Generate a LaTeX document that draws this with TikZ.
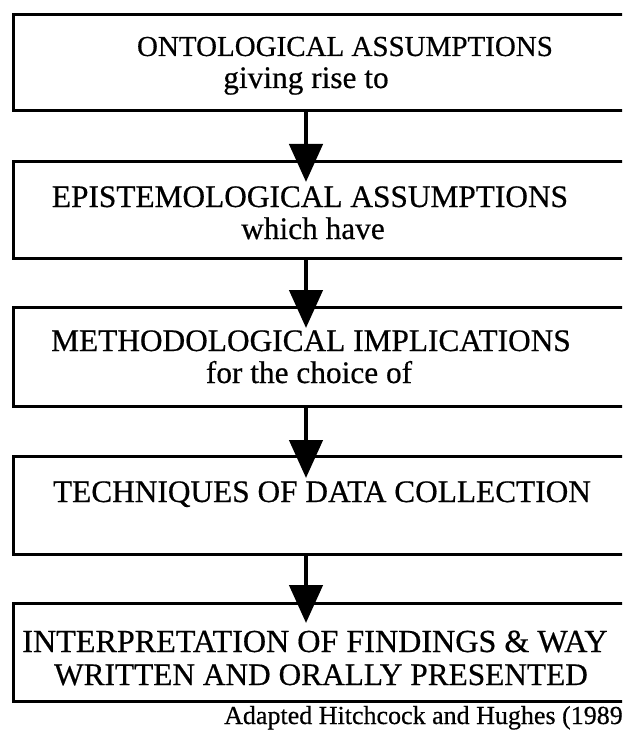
\documentclass[tikz,border=0pt]{standalone}
\usepackage{fontspec}
\setmainfont{Liberation Serif}[FakeBold=0.5]
\usetikzlibrary{arrows.meta}
\begin{document}
\begin{tikzpicture}[x=0.75pt,y=-0.75pt,
  box/.style={draw, line width=2pt, anchor=north west, inner sep=0pt, minimum width=480pt},
  title/.style={anchor=base, inner sep=0pt, font=\fontsize{23.5}{26}\selectfont},
  small/.style={anchor=base, inner sep=0pt, font=\fontsize{23.5}{26}\selectfont},
  flow/.style={line width=3.5pt, -{Triangle[width=24.75pt,length=28.5pt]}}]
\useasboundingbox (0,0) rectangle (622,731);
\fill[white] (0,0) rectangle (622,731);
\clip (0,0) rectangle (622,731);

% stacked boxes (they run past the right margin)
\node[box, minimum height=72pt]    (b1) at (12,13)  {};
\node[box, minimum height=72.75pt] (b2) at (12,160) {};
\node[box, minimum height=74.25pt] (b3) at (12,306) {};
\node[box, minimum height=73.5pt]  (b4) at (12,455) {};
\node[box, minimum height=73.5pt]  (b5) at (12,602) {};

% box texts
\node[title, font=\fontsize{21.75}{24}\selectfont] (l1a) at (345,56) {ONTOLOGICAL ASSUMPTIONS};
\node[small] (l1b) at (306,88) {giving rise to};
\node[title] (l2a) at (310,207) {EPISTEMOLOGICAL ASSUMPTIONS};
\node[small] (l2b) at (313,239) {which have};
\node[title] (l3a) at (311,351) {METHODOLOGICAL IMPLICATIONS};
\node[small] (l3b) at (309,383) {for the choice of};
\node[title] (l4a) at (322,502) {TECHNIQUES OF DATA COLLECTION};
\node[title, font=\fontsize{24.1}{26}\selectfont] (l5a) at (315,652) {INTERPRETATION OF FINDINGS \& WAY};
\node[title] (l5b) at (321,685) {WRITTEN AND ORALLY PRESENTED};

% source note
\node[anchor=base east, inner sep=0pt, font=\fontsize{19.5}{22}\selectfont] (src) at (623,724) {Adapted Hitchcock and Hughes (1989};

% arrow tips reach into the next box
\coordinate (t1) at (306,182);
\coordinate (t2) at (306,328);
\coordinate (t3) at (306,478);
\coordinate (t4) at (306,623);

\draw[flow] (b1.south -| t1) -- (t1);
\draw[flow] (b2.south -| t2) -- (t2);
\draw[flow] (b3.south -| t3) -- (t3);
\draw[flow] (b4.south -| t4) -- (t4);
\end{tikzpicture}
\end{document}
